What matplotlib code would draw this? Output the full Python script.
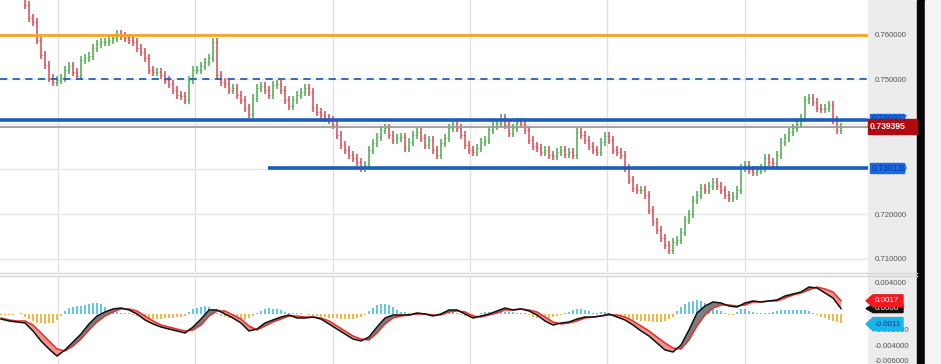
import matplotlib

matplotlib.use("Agg")
import matplotlib.pyplot as plt
import matplotlib.transforms as mtransforms
import numpy as np
from matplotlib.lines import Line2D
from matplotlib.patches import Polygon, Rectangle

plt.rcParams["font.family"] = ["Liberation Sans", "DejaVu Sans"]

# ---- price bars (daily closes) ----
FIRST_OPEN = 0.7690
CLOSES = [
    0.7664, 0.7636, 0.7627, 0.7587, 0.7553, 0.7531, 0.7502, 0.7493, 0.7498, 0.7502,
    0.7520, 0.7529, 0.7516, 0.7507, 0.7542, 0.7547, 0.7551, 0.7569, 0.7578, 0.7582,
    0.7582, 0.7587, 0.7591, 0.7600, 0.7596, 0.7591, 0.7587, 0.7582, 0.7569, 0.7560,
    0.7547, 0.7520, 0.7516, 0.7516, 0.7509, 0.7498, 0.7489, 0.7476, 0.7464, 0.7462,
    0.7453, 0.7498, 0.7520, 0.7520, 0.7529, 0.7538, 0.7547, 0.7582, 0.7509, 0.7493,
    0.7489, 0.7476, 0.7480, 0.7464, 0.7453, 0.7436, 0.7422, 0.7458, 0.7480, 0.7484,
    0.7476, 0.7464, 0.7487, 0.7489, 0.7476, 0.7453, 0.7440, 0.7453, 0.7464, 0.7471,
    0.7480, 0.7471, 0.7436, 0.7427, 0.7420, 0.7413, 0.7409, 0.7398, 0.7376, 0.7353,
    0.7342, 0.7331, 0.7324, 0.7316, 0.7302, 0.7309, 0.7342, 0.7358, 0.7371, 0.7387,
    0.7391, 0.7376, 0.7364, 0.7369, 0.7371, 0.7347, 0.7360, 0.7376, 0.7382, 0.7369,
    0.7353, 0.7364, 0.7342, 0.7331, 0.7358, 0.7369, 0.7391, 0.7396, 0.7391, 0.7376,
    0.7353, 0.7342, 0.7338, 0.7347, 0.7360, 0.7364, 0.7387, 0.7396, 0.7402, 0.7413,
    0.7398, 0.7380, 0.7391, 0.7404, 0.7400, 0.7387, 0.7364, 0.7351, 0.7347, 0.7338,
    0.7342, 0.7331, 0.7329, 0.7338, 0.7342, 0.7333, 0.7338, 0.7331, 0.7382, 0.7376,
    0.7364, 0.7351, 0.7342, 0.7338, 0.7360, 0.7373, 0.7364, 0.7342, 0.7338, 0.7331,
    0.7302, 0.7276, 0.7258, 0.7253, 0.7253, 0.7242, 0.7209, 0.7182, 0.7164, 0.7147,
    0.7131, 0.7120, 0.7138, 0.7142, 0.7160, 0.7187, 0.7200, 0.7231, 0.7242, 0.7258,
    0.7253, 0.7262, 0.7271, 0.7262, 0.7253, 0.7242, 0.7236, 0.7240, 0.7253, 0.7302,
    0.7309, 0.7298, 0.7293, 0.7298, 0.7302, 0.7324, 0.7316, 0.7313, 0.7331, 0.7360,
    0.7369, 0.7382, 0.7391, 0.7400, 0.7413, 0.7453, 0.7458, 0.7449, 0.7436, 0.7433,
    0.7436, 0.7442, 0.7409, 0.7387, 0.7394,
]

# ---- MACD panel (line / signal every second bar, histogram every bar) ----
MACD_FIRST_BAR = -6
MACD = [
    -0.00065, -0.00090, -0.00103, -0.00116, -0.00219, -0.00348, -0.00452, -0.00542, -0.00464, -0.00361,
    -0.00258, -0.00129, -0.00026, 0.00026, 0.00065, 0.00077, 0.00052, 0.00000, -0.00077, -0.00129,
    -0.00168, -0.00194, -0.00219, -0.00245, -0.00168, -0.00065, 0.00052, 0.00052, 0.00000, -0.00052,
    -0.00116, -0.00219, -0.00194, -0.00116, -0.00077, -0.00039, -0.00013, -0.00052, -0.00052, -0.00039,
    -0.00065, -0.00129, -0.00194, -0.00258, -0.00323, -0.00348, -0.00297, -0.00168, -0.00052, -0.00013,
    -0.00013, -0.00013, 0.00013, 0.00000, -0.00026, 0.00000, 0.00052, 0.00052, 0.00000, -0.00052,
    -0.00026, 0.00000, 0.00039, 0.00077, 0.00052, 0.00065, 0.00039, -0.00013, -0.00090, -0.00142,
    -0.00116, -0.00103, -0.00065, -0.00039, -0.00039, -0.00026, 0.00000, -0.00039, -0.00077, -0.00142,
    -0.00219, -0.00284, -0.00374, -0.00464, -0.00490, -0.00400, -0.00206, 0.00013, 0.00103, 0.00155,
    0.00142, 0.00103, 0.00090, 0.00142, 0.00168, 0.00155, 0.00168, 0.00181, 0.00232, 0.00258,
    0.00284, 0.00348, 0.00335, 0.00271, 0.00206, 0.00070,
]
SIGNAL = [
    -0.00052, -0.00077, -0.00090, -0.00090, -0.00142, -0.00245, -0.00348, -0.00452, -0.00477, -0.00413,
    -0.00323, -0.00206, -0.00103, -0.00026, 0.00026, 0.00065, 0.00065, 0.00039, -0.00026, -0.00090,
    -0.00142, -0.00168, -0.00194, -0.00219, -0.00206, -0.00142, -0.00026, 0.00039, 0.00039, -0.00013,
    -0.00065, -0.00155, -0.00206, -0.00155, -0.00103, -0.00065, -0.00026, -0.00026, -0.00039, -0.00039,
    -0.00052, -0.00090, -0.00155, -0.00219, -0.00284, -0.00323, -0.00335, -0.00245, -0.00129, -0.00052,
    -0.00026, -0.00013, 0.00000, 0.00000, -0.00013, -0.00013, 0.00026, 0.00039, 0.00026, -0.00026,
    -0.00039, -0.00013, 0.00013, 0.00052, 0.00052, 0.00065, 0.00052, 0.00026, -0.00039, -0.00103,
    -0.00129, -0.00116, -0.00090, -0.00052, -0.00039, -0.00026, -0.00013, -0.00013, -0.00039, -0.00090,
    -0.00155, -0.00219, -0.00297, -0.00374, -0.00439, -0.00452, -0.00335, -0.00155, -0.00013, 0.00077,
    0.00116, 0.00116, 0.00103, 0.00116, 0.00155, 0.00155, 0.00168, 0.00168, 0.00206, 0.00245,
    0.00271, 0.00310, 0.00348, 0.00323, 0.00284, 0.00170,
]
HIST = [
    -0.0001, -0.0001, -0.0001, -0.0001, 0.0000, 0.0001, -0.0004, -0.0006, -0.0009, -0.0012,
    -0.0012, -0.0013, -0.0012, -0.0012, -0.0008, -0.0003, 0.0004, 0.0008, 0.0009, 0.0010,
    0.0010, 0.0012, 0.0013, 0.0014, 0.0014, 0.0013, 0.0009, 0.0005, 0.0003, 0.0003,
    0.0001, 0.0001, 0.0001, -0.0001, -0.0003, -0.0004, -0.0005, -0.0006, -0.0006, -0.0006,
    -0.0006, -0.0005, -0.0005, -0.0005, -0.0004, -0.0004, -0.0003, 0.0003, 0.0006, 0.0008,
    0.0009, 0.0010, 0.0009, 0.0006, 0.0001, -0.0003, -0.0004, -0.0005, -0.0006, -0.0008,
    -0.0008, -0.0008, -0.0005, -0.0003, 0.0001, 0.0004, 0.0006, 0.0008, 0.0006, 0.0006,
    0.0005, 0.0003, 0.0001, 0.0001, 0.0001, 0.0001, 0.0000, -0.0001, -0.0003, -0.0003,
    -0.0004, -0.0004, -0.0005, -0.0005, -0.0005, -0.0006, -0.0006, -0.0006, -0.0006, -0.0005,
    -0.0004, -0.0001, 0.0004, 0.0008, 0.0012, 0.0013, 0.0013, 0.0012, 0.0009, 0.0005,
    0.0003, 0.0003, 0.0001, 0.0001, 0.0001, 0.0000, 0.0001, 0.0000, -0.0001, 0.0000,
    0.0001, 0.0003, 0.0003, 0.0003, 0.0001, -0.0001, -0.0003, -0.0004, -0.0001, 0.0000,
    0.0001, 0.0003, 0.0003, 0.0003, 0.0003, 0.0004, 0.0003, 0.0003, 0.0003, 0.0001,
    0.0001, 0.0001, -0.0001, -0.0004, -0.0005, -0.0005, -0.0005, -0.0005, -0.0004, -0.0003,
    -0.0001, 0.0001, 0.0003, 0.0005, 0.0006, 0.0006, 0.0005, 0.0004, 0.0001, 0.0001,
    0.0003, 0.0003, 0.0001, -0.0001, -0.0003, -0.0004, -0.0005, -0.0006, -0.0008, -0.0008,
    -0.0009, -0.0009, -0.0009, -0.0010, -0.0010, -0.0010, -0.0009, -0.0006, -0.0004, 0.0004,
    0.0009, 0.0013, 0.0016, 0.0017, 0.0018, 0.0017, 0.0014, 0.0010, 0.0006, 0.0005,
    0.0004, 0.0001, -0.0001, -0.0001, 0.0003, 0.0006, 0.0006, 0.0004, 0.0003, 0.0001,
    0.0001, 0.0001, 0.0001, 0.0003, 0.0004, 0.0005, 0.0005, 0.0005, 0.0005, 0.0005,
    0.0005, 0.0005, 0.0004, 0.0001, -0.0001, -0.0004, -0.0005, -0.0008, -0.0009, -0.0010,
    -0.0011,
]

# ---- levels and axis labels ----
LEVEL_ORANGE = 0.7598
LEVEL_DASHED = 0.7500
LEVEL_UPPER = 0.7409
LEVEL_LOWER = 0.730139
LEVEL_LOWER_FROM_BAR = 60.75
LAST_PRICE = 0.739395

# labels hidden under the value badges are left empty, as on the chart
PRICE_TICKS = [0.71, 0.72, 0.73, 0.74, 0.75, 0.76]
PRICE_TICK_LABELS = ["0.710000", "0.720000", "", "", "0.750000", "0.760000"]
MACD_TICKS = [0.004, 0.002, 0.0, -0.002, -0.004, -0.006]
MACD_TICK_LABELS = ["0.004000", "", "", "-0.002000", "-0.004000", "-0.006000"]
GRID_BARS = [8.25, 42.5, 77, 111.25, 145.5, 180]

W, H = 941, 364
PLOT_W = 868
GREEN = "#4caa4a"
RED = "#d9484f"


def px_box(x0, y0, x1, y1):
    return [x0 / W, 1 - y1 / H, (x1 - x0) / W, (y1 - y0) / H]


def style_axes(ax, ticks, labels):
    for s in ax.spines.values():
        s.set_visible(False)
    ax.set_xlim(-6.25, 210.75)
    ax.set_xticks(GRID_BARS)
    ax.yaxis.tick_right()
    ax.set_yticks(ticks)
    ax.set_yticklabels(labels)
    ax.tick_params(axis="x", length=0, labelbottom=False)
    ax.tick_params(axis="y", length=0, pad=5, labelsize=5.6, labelcolor="#555555")
    ax.grid(True, axis="x", color="#e2e2e2", lw=1, zorder=0)


def badge_rect(ax, y, half_h, x0, x1, color, text, tcolor, bold=False, z=10):
    tr = mtransforms.blended_transform_factory(ax.transAxes, ax.transData)
    ax.add_patch(Rectangle((x0 / PLOT_W, y - half_h), (x1 - x0) / PLOT_W, 2 * half_h,
                           transform=tr, color=color, clip_on=False, zorder=z))
    ax.text((x0 + 2) / PLOT_W, y, text, transform=tr, color=tcolor, fontsize=6.2,
            fontweight="bold" if bold else "normal", va="center", ha="left",
            clip_on=False, zorder=z + 0.5)


def badge_arrow(ax, y, half_h, color, text, tcolor, z=10):
    tr = mtransforms.blended_transform_factory(ax.transAxes, ax.transData)
    tip, x0, x1 = 866, 873, 903
    pts = [(tip / PLOT_W, y), (x0 / PLOT_W, y + half_h), (x1 / PLOT_W, y + half_h),
           (x1 / PLOT_W, y - half_h), (x0 / PLOT_W, y - half_h)]
    ax.add_patch(Polygon(pts, closed=True, transform=tr, color=color, clip_on=False, zorder=z))
    ax.text(875 / PLOT_W, y, text, transform=tr, color=tcolor, fontsize=5.8,
            va="center", ha="left", clip_on=False, zorder=z + 0.5)


def main():
    fig = plt.figure(figsize=(W / 100, H / 100), dpi=100)
    fig.patch.set_facecolor("white")

    # right-hand scale strip, black bar, outer margin (behind the axes)
    fig.patches.append(Rectangle((PLOT_W / W, 0), 49 / W, 1, transform=fig.transFigure,
                                 color="#ececec", zorder=-5))
    fig.patches.append(Rectangle((917 / W, 0), 8 / W, 1, transform=fig.transFigure,
                                 color="#060606", zorder=-5))
    fig.patches.append(Rectangle((925 / W, 0), 16 / W, 1, transform=fig.transFigure,
                                 color="#f4f4f4", zorder=-5))

    ax = fig.add_axes(px_box(0, 0, PLOT_W, 272))
    ax2 = fig.add_axes(px_box(0, 276, PLOT_W, 364))
    for a in (ax, ax2):
        a.set_facecolor("white")

    # ---------------- price panel ----------------
    style_axes(ax, PRICE_TICKS, PRICE_TICK_LABELS)
    ax.grid(True, axis="y", color="#e6e6e6", lw=1, zorder=0)
    ax.set_ylim(0.707111, 0.767556)

    closes = np.array(CLOSES)
    opens = np.r_[FIRST_OPEN, closes[:-1]]
    x = np.arange(len(closes))
    wick = 0.0009
    hi = np.maximum(opens, closes) + wick
    lo = np.minimum(opens, closes) - wick
    cols = np.where(closes >= opens, GREEN, RED)
    ax.vlines(x, lo, hi, colors=cols, lw=1.1, zorder=2)
    ax.hlines(opens, x - 0.3, x, colors=cols, lw=0.8, zorder=2)
    ax.hlines(closes, x, x + 0.3, colors=cols, lw=0.8, zorder=2)

    ax.axhline(LEVEL_ORANGE, color="#f5a623", lw=2, zorder=3)
    ax.axhline(LEVEL_DASHED, color="#2d5fb4", lw=1.3, ls=(0, (4, 3)), zorder=3)
    ax.axhline(LEVEL_UPPER, color="#1b5ec0", lw=2.6, zorder=3)
    ax.axhline(LAST_PRICE, color="#9c9c9c", lw=1.3, zorder=3)
    ax.hlines(LEVEL_LOWER, LEVEL_LOWER_FROM_BAR, 210.75, color="#1b5ec0", lw=2.6, zorder=3)

    px = 0.01 / 45
    badge_rect(ax, LEVEL_UPPER + 1.5 * px, 4.5 * px, 870, 904, "#1c68e3", "0.740917", "#0b3f93", z=10)
    badge_rect(ax, LAST_PRICE, 7.5 * px, 868, 917, "#b10a10", "0.739395", "white", bold=True, z=11)
    badge_rect(ax, LEVEL_LOWER, 5 * px, 870, 904, "#1c68e3", "0.730139", "#0b3f93", z=10)

    # ---------------- MACD panel ----------------
    style_axes(ax2, MACD_TICKS, MACD_TICK_LABELS)
    ax2.set_ylim(-0.00645, 0.0049)

    hx = MACD_FIRST_BAR + np.arange(len(HIST))
    hist = np.array(HIST)
    hcols = np.where(hist >= 0, "#62c8e6", "#f0b84a")
    ax2.bar(hx, hist, width=0.4, color=hcols, zorder=2)

    mx = MACD_FIRST_BAR + 2 * np.arange(len(MACD))
    macd = np.array(MACD)
    sig = np.array(SIGNAL)
    ax2.fill_between(mx, macd, sig, where=macd >= sig, interpolate=True,
                     color="#7d7d7d", lw=0, zorder=3)
    ax2.fill_between(mx, macd, sig, where=macd < sig, interpolate=True,
                     color="#f3928c", lw=0, zorder=3)
    ax2.plot(mx, sig, color="#e0302c", lw=1.1, zorder=4)
    ax2.plot(mx, macd, color="#111111", lw=1.1, zorder=4)

    mpx = 1 / 7750
    badge_arrow(ax2, MACD[-1], 4 * mpx, "#121212", "0.0006", "white", z=10)
    badge_arrow(ax2, SIGNAL[-1], 6 * mpx, "#ee1b22", "0.0017", "white", z=11)
    badge_arrow(ax2, HIST[-1] - 0.0002, 6.5 * mpx, "#1ab3ee", "-0.0011", "#0d3a66", z=11)

    # panel separator
    for yy in (273, 276):
        fig.add_artist(Line2D([0, 917 / W], [1 - yy / H] * 2, transform=fig.transFigure,
                              color="#d6d6d6", lw=1))

    fig.savefig("out.png", dpi=100, facecolor="white")
    plt.close(fig)


if __name__ == "__main__":
    main()
